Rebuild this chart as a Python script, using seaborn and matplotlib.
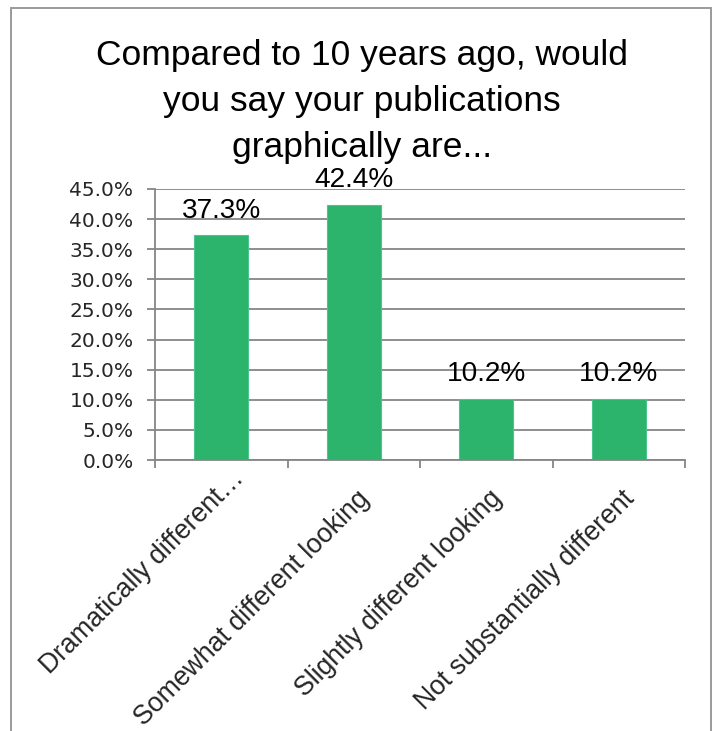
import matplotlib
matplotlib.use("Agg")
import matplotlib.pyplot as plt
import matplotlib.transforms as mtransforms
from matplotlib.patches import Rectangle
from matplotlib.ticker import FuncFormatter, FixedLocator
import seaborn as sns
import pandas as pd

# Survey responses
categories = [
    "Dramatically different…",
    "Somewhat different looking",
    "Slightly different looking",
    "Not substantially different",
]
shares = [0.373, 0.424, 0.102, 0.102]
y_ticks = [0.0, 0.05, 0.10, 0.15, 0.20, 0.25, 0.30, 0.35, 0.40, 0.45]
title = "Compared to 10 years ago, would\nyou say your publications\ngraphically are..."

BAR_GREEN = "#2cb36c"
GRID_GRAY = "#868686"

sns.set_theme(style="white")
plt.rcParams["font.family"] = ["Liberation Sans", "DejaVu Sans"]

df = pd.DataFrame({"category": categories, "share": shares})

W, H, DPI = 716, 731, 100
fig = plt.figure(figsize=(W / DPI, H / DPI), dpi=DPI)
ax = fig.add_axes([155 / W, 1 - 460 / H, (685 - 155) / W, (460 - 189) / H])

sns.barplot(data=df, x="category", y="share", color=BAR_GREEN, width=0.41,
            saturation=1, edgecolor="#4cc58c", linewidth=0.8, ax=ax, zorder=3)

ax.set_xlim(-0.5, len(categories) - 0.5)
ax.set_ylim(0, 0.45)
ax.set_xlabel("")
ax.set_ylabel("")

# horizontal gridlines and y axis
ax.yaxis.set_major_locator(FixedLocator(y_ticks))
ax.yaxis.set_major_formatter(FuncFormatter(lambda v, _: f"{v * 100:.1f}%"))
ax.grid(axis="y", color=GRID_GRAY, linewidth=1.3, zorder=0)
ax.grid(axis="x", visible=False)
ax.set_axisbelow(True)
ax.tick_params(axis="y", which="major", left=True, length=5.5, width=1.3,
               color=GRID_GRAY, pad=10, labelsize=14.5)
for lbl in ax.get_yticklabels():
    lbl.set_fontfamily("DejaVu Sans")

# category boundaries get the tick marks, labels sit under the bars
ax.set_xticks(range(len(categories)))
ax.set_xticks([i - 0.5 for i in range(len(categories) + 1)], minor=True)
ax.tick_params(axis="x", which="minor", bottom=True, length=6, width=1.3,
               color=GRID_GRAY)
ax.tick_params(axis="x", which="major", bottom=False, length=0, pad=28.5,
               labelsize=19.2)
ax.set_xticklabels(categories, rotation=45, ha="right", va="baseline",
                   rotation_mode="anchor")
for i, lbl in enumerate(ax.get_xticklabels()):
    # the truncated first label sits a little further up its diagonal
    dx, dy = (24, 20) if i == 0 else (17, 0)
    shift = mtransforms.ScaledTranslation(dx / DPI, dy / DPI,
                                          fig.dpi_scale_trans)
    lbl.set_transform(lbl.get_transform() + shift)

for side in ("top", "right"):
    ax.spines[side].set_visible(False)
for side in ("left", "bottom"):
    ax.spines[side].set_color(GRID_GRAY)
    ax.spines[side].set_linewidth(1.3)
    ax.spines[side].set_zorder(4)

# value labels above each bar
for i, v in enumerate(shares):
    ax.annotate(f"{v * 100:.1f}%", xy=(i, v), xytext=(0, 12.5),
                textcoords="offset points", ha="center", va="baseline",
                fontsize=20.2, color="black", zorder=5)

# title: baseline of its last line sits just above the plot
fig.text(362 / W, 1 - 157 / H, title, ha="center", va="baseline",
         fontsize=25.5, linespacing=1.5, color="black")

# outer frame
fig.add_artist(Rectangle((11 / W, -0.05), (711 - 11) / W, 1.05 - 8 / H,
                         transform=fig.transFigure, fill=False,
                         edgecolor="#9a9a9a", linewidth=1.4))

fig.savefig("out.png", dpi=DPI)
